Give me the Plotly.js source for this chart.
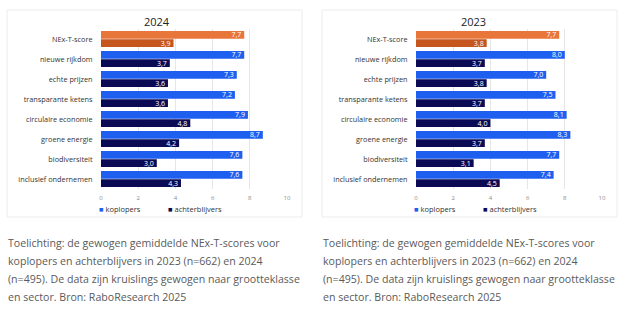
<!DOCTYPE html>
<html>
<head>
<meta charset="utf-8">
<script src="https://cdn.plot.ly/plotly-3.0.1.min.js"></script>
<style>html,body{margin:0;padding:0;background:#fff;}#chart{width:625px;height:325px;}</style>
</head>
<body>
<div id="chart"></div>
<script>
// ---- data ----
const categories = ["NEx-T-score","nieuwe rijkdom","echte prijzen","transparante ketens","circulaire economie","groene energie","biodiversiteit","inclusief ondernemen"];
const koplopers2024 = [7.7, 7.7, 7.3, 7.2, 7.9, 8.7, 7.6, 7.6];
const achterblijvers2024 = [3.9, 3.7, 3.6, 3.6, 4.8, 4.2, 3.0, 4.3];
const koplopers2023 = [7.7, 8.0, 7.0, 7.5, 8.1, 8.3, 7.7, 7.4];
const achterblijvers2023 = [3.8, 3.7, 3.8, 3.7, 4.0, 3.7, 3.1, 4.5];
const xTicks = [0, 2, 4, 6, 8, 10];
const seriesNames = ["koplopers", "achterblijvers"];
const panelTitles = ["2024", "2023"];
const captionLines = [
  "Toelichting: de gewogen gemiddelde NEx-T-scores voor",
  "koplopers en achterblijvers in 2023 (n=662) en 2024",
  "(n=495). De data zijn kruislings gewogen naar grootteklasse",
  "en sector. Bron: RaboResearch 2025"
];

// ---- styles ----
const W = 625, H = 325;
const px = v => v / W;
const py = v => 1 - v / H;
const orange = "#E8763A", orangeDark = "#C4561E", blue = "#1F5FF0", navy = "#0B0B55";
const kopColors = categories.map((c, i) => i === 0 ? orange : blue);
const achColors = categories.map((c, i) => i === 0 ? orangeDark : navy);

function barTrace(x, name, colors, xa, ya) {
  return {
    type: "bar", orientation: "h", y: categories, x: x, name: name,
    xaxis: xa, yaxis: ya, showlegend: false,
    marker: {color: colors, line: {width: 0}},
    texttemplate: "%{x:.1f}", textposition: "inside", insidetextanchor: "end",
    textfont: {family: "Open Sans", size: 7, color: "#ffffff"},
    hoverinfo: "skip"
  };
}

const data = [
  barTrace(koplopers2024, seriesNames[0], kopColors, "x", "y"),
  barTrace(achterblijvers2024, seriesNames[1], achColors, "x", "y"),
  barTrace(koplopers2023, seriesNames[0], kopColors, "x2", "y2"),
  barTrace(achterblijvers2023, seriesNames[1], achColors, "x2", "y2")
];

function xAxis(d0, d1, anchor) {
  return {
    domain: [px(d0), px(d1)], range: [0, 10], anchor: anchor,
    tickvals: xTicks, ticktext: xTicks.map(String),
    tickfont: {family: "Open Sans", size: 6, color: "#8a8a8a"},
    showgrid: true, gridcolor: "#e6e6e6", gridwidth: 1,
    zeroline: false, showline: false, ticks: "outside", ticklen: 3, tickcolor: "rgba(0,0,0,0)", fixedrange: true
  };
}
function yAxis(anchor) {
  return {
    domain: [py(189), py(29)], type: "category", autorange: "reversed",
    anchor: anchor, tickfont: {family: "Open Sans", size: 7.3, color: "#333333"},
    ticks: "outside", ticklen: 6, tickcolor: "rgba(0,0,0,0)",
    showgrid: false, zeroline: false, showline: false, fixedrange: true
  };
}

const annotations = [];
const shapes = [];
const panels = [
  {left: 7, right: 302, x0: 101, x1: 287, titleX: 157, capX: 6},
  {left: 322, right: 617, x0: 416, x1: 602, titleX: 473, capX: 321}
];
panels.forEach((p, k) => {
  shapes.push({type: "rect", xref: "paper", yref: "paper",
    x0: px(p.left), x1: px(p.right), y0: py(217), y1: py(10),
    line: {color: "#ececec", width: 1}, fillcolor: "rgba(0,0,0,0)", layer: "below"});
  annotations.push({xref: "paper", yref: "paper", x: px(p.titleX), y: py(21),
    text: panelTitles[k], showarrow: false, xanchor: "center", yanchor: "middle",
    font: {family: "Open Sans", size: 11, color: "#222"}});
  annotations.push({xref: "paper", yref: "paper", x: px(p.x0 - 4), y: py(209),
    text: '<span style="color:' + blue + '">■</span> ' + seriesNames[0], showarrow: false,
    xanchor: "left", yanchor: "middle", font: {family: "Open Sans", size: 7.5, color: "#333"}});
  annotations.push({xref: "paper", yref: "paper", x: px(p.x0 + 65), y: py(209),
    text: '<span style="color:' + navy + '">■</span> ' + seriesNames[1], showarrow: false,
    xanchor: "left", yanchor: "middle", font: {family: "Open Sans", size: 7.5, color: "#333"}});
  const capYs = [243, 261, 279, 297];
  captionLines.forEach((line, i) => {
    annotations.push({xref: "paper", yref: "paper", x: px(p.capX), y: py(capYs[i]),
      text: line, showarrow: false, xanchor: "left", yanchor: "middle",
      font: {family: "Open Sans", size: 10.6, color: "#5a5a5a"}});
  });
});

const layout = {
  width: W, height: H, margin: {l: 0, r: 0, t: 0, b: 0},
  paper_bgcolor: "#ffffff", plot_bgcolor: "rgba(0,0,0,0)",
  separators: ",.", barmode: "group", bargap: 0.17, bargroupgap: 0.06,
  showlegend: false,
  uniformtext: {mode: "show", minsize: 7},
  xaxis: xAxis(101, 287, "y"), yaxis: yAxis("x"),
  xaxis2: xAxis(416, 602, "y2"), yaxis2: yAxis("x2"),
  shapes: shapes, annotations: annotations
};

Plotly.newPlot("chart", data, layout, {displayModeBar: false, staticPlot: true});
</script>
</body>
</html>
